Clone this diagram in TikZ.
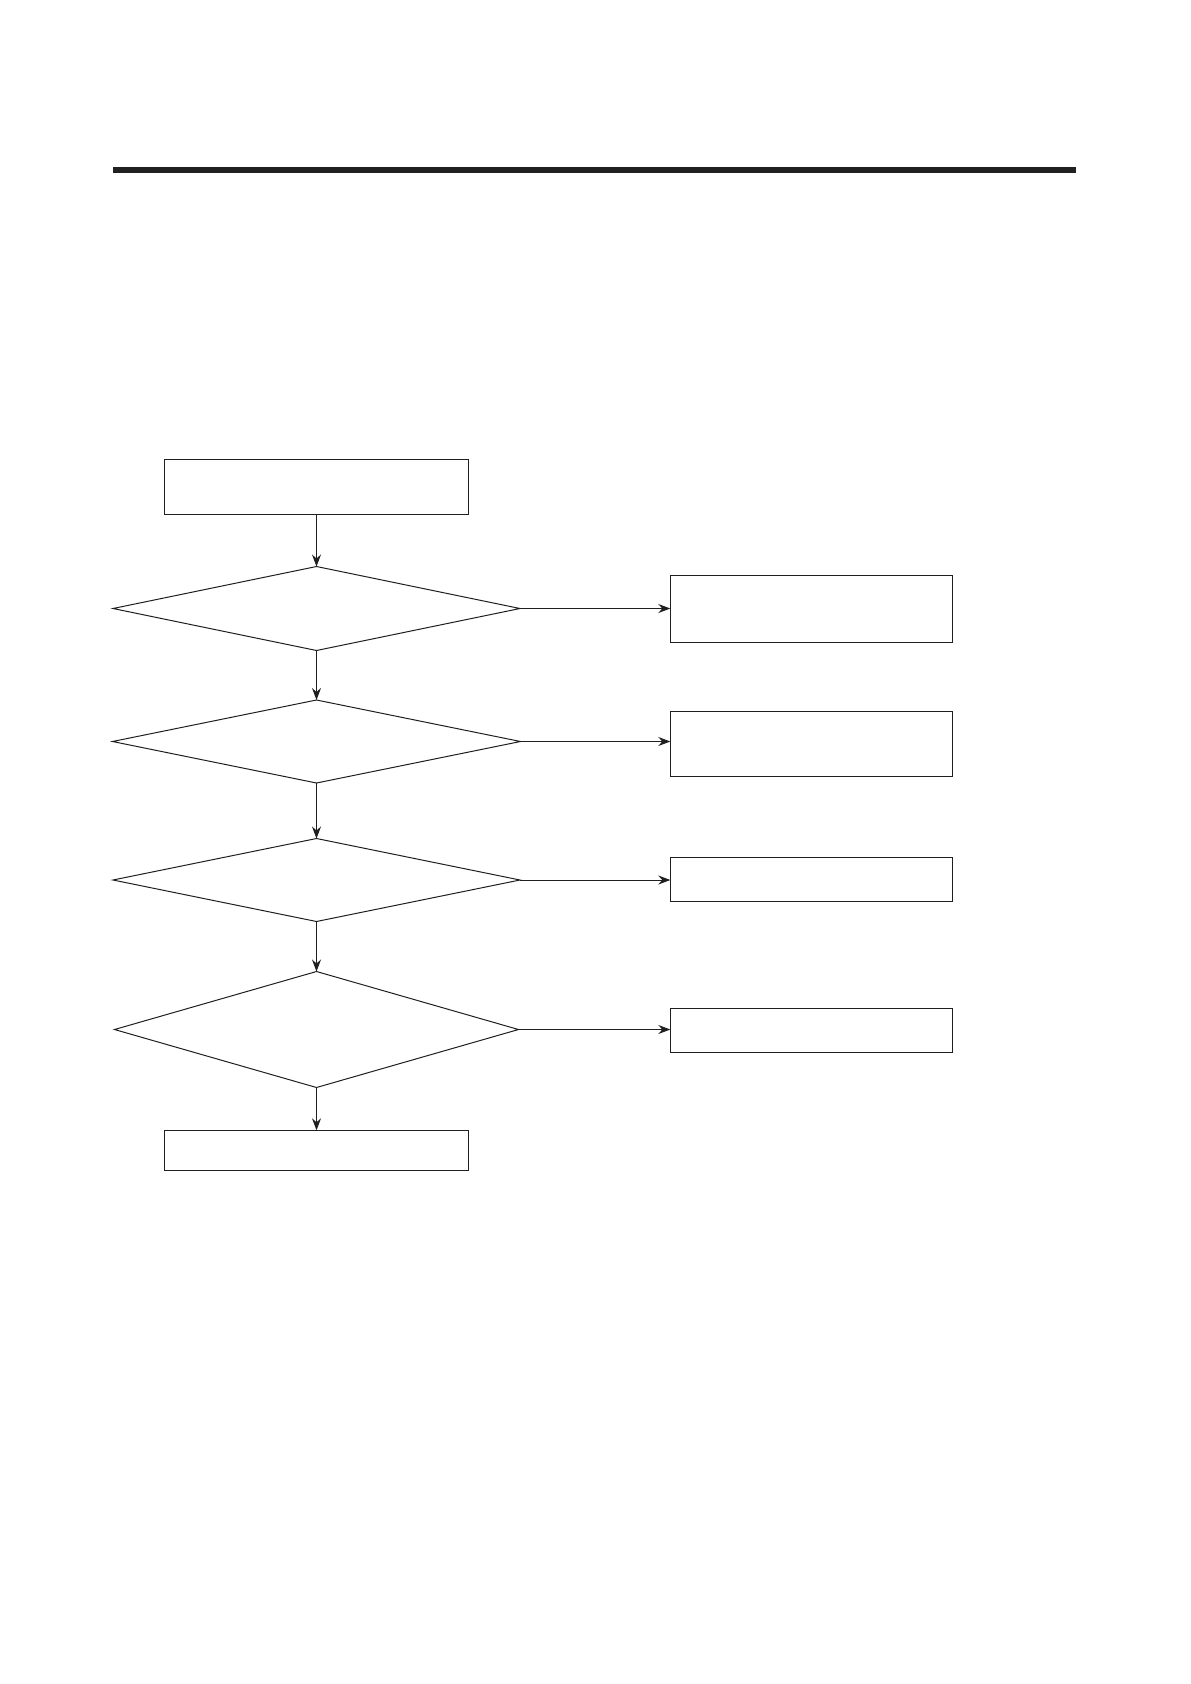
\documentclass[tikz,border=0pt]{standalone}
\usetikzlibrary{shapes.geometric,arrows.meta}
\begin{document}
\begin{tikzpicture}[x=1pt,y=-1pt,
  line width=1pt,
  ink/.style={draw=black!88},
  procbox/.style={ink,rectangle,inner sep=0pt,outer sep=0pt},
  decide/.style={ink,diamond,inner sep=0pt,outer sep=0pt},
  flow/.style={ink,-{Stealth[length=12pt,width=9pt,inset=4pt]}}]
\useasboundingbox (0,0) rectangle (1191,1684);
% top rule
\fill[black!87] (112.8,166.5) rectangle (1076,172.5);
% left column
\node[procbox,minimum width=304pt,minimum height=55pt] (b1) at (316.5,486.7) {};
\node[decide,minimum width=407pt,minimum height=84pt] (d1) at (316.5,608.5) {};
\node[decide,minimum width=408pt,minimum height=83pt] (d2) at (316.5,741.5) {};
\node[decide,minimum width=407pt,minimum height=83pt] (d3) at (316.5,880) {};
\node[decide,minimum width=404pt,minimum height=116pt] (d4) at (316.5,1029.5) {};
\node[procbox,minimum width=304pt,minimum height=40pt] (b2) at (316.5,1150.3) {};
% right column
\node[procbox,minimum width=282pt,minimum height=67pt] (rA) at (811.3,608.8) {};
\node[procbox,minimum width=282pt,minimum height=65pt] (rB) at (811.3,743.8) {};
\node[procbox,minimum width=282pt,minimum height=44pt] (rC) at (811.3,879.3) {};
\node[procbox,minimum width=282pt,minimum height=44pt] (rD) at (811.3,1030.3) {};
% vertical connectors
\draw[flow] (b1.south) -- (d1.north);
\draw[flow] (d1.south) -- (d2.north);
\draw[flow] (d2.south) -- (d3.north);
\draw[flow] (d3.south) -- (d4.north);
\draw[flow] (d4.south) -- (b2.north);
% horizontal connectors
\draw[flow] (d1.east) -- (d1.east -| rA.west);
\draw[flow] (d2.east) -- (d2.east -| rB.west);
\draw[flow] (d3.east) -- (d3.east -| rC.west);
\draw[flow] (d4.east) -- (d4.east -| rD.west);
\end{tikzpicture}
\end{document}
